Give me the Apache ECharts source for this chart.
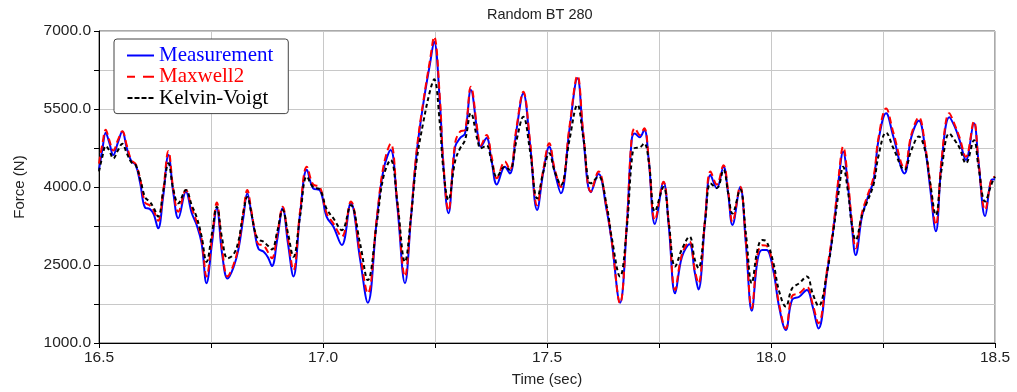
<!DOCTYPE html>
<html>
<head>
<meta charset="utf-8">
<script src="https://cdn.jsdelivr.net/npm/echarts@6/dist/echarts.min.js"></script>
<style>html,body{margin:0;padding:0;background:#fff;}#c{width:1017px;height:392px;}</style>
</head>
<body>
<div id="c"></div>
<script>
const times = [
16.500,16.508,16.515,16.523,16.532,16.542,16.552,16.562,16.572,16.582,
16.592,16.603,16.613,16.622,16.632,16.643,16.655,16.666,16.677,16.694,
16.707,16.718,16.729,16.740,16.752,16.763,16.775,16.787,16.800,16.811,
16.822,16.831,16.840,16.848,16.856,16.867,16.877,16.886,16.898,16.910,
16.922,16.934,16.949,16.964,16.978,16.993,17.008,17.023,17.042,17.062,
17.083,17.100,17.120,17.135,17.151,17.166,17.183,17.196,17.209,17.224,
17.239,17.248,17.261,17.268,17.280,17.295,17.306,17.317,17.330,17.345,
17.352,17.365,17.376,17.388,17.406,17.417,17.432,17.447,17.462,17.478,
17.492,17.505,17.517,17.531,17.550,17.568,17.581,17.598,17.615,17.633,
17.644,17.663,17.678,17.689,17.696,17.707,17.717,17.727,17.741,17.760,
17.772,17.786,17.801,17.818,17.830,17.838,17.853,17.865,17.879,17.894,
17.904,17.914,17.931,17.944,17.957,17.970,17.980,17.990,18.005,18.018,
18.033,18.047,18.063,18.080,18.093,18.106,18.125,18.140,18.151,18.161,
18.172,18.180,18.189,18.203,18.214,18.229,18.240,18.257,18.273,18.298,
18.313,18.330,18.344,18.355,18.368,18.381,18.398,18.410,18.421,18.435,
18.453,18.463,18.478,18.492,18.500];

const measurement = [
4330,4750,5045,4850,4615,4850,5065,4750,4500,4420,
4070,3600,3580,3480,3205,3800,4615,3880,3400,3910,
3500,3270,2920,2150,2900,3590,2700,2240,2450,2790,
3400,3880,3500,3110,2810,2760,2650,2480,3000,3590,
2900,2280,3500,4330,3975,3940,3430,3240,2885,3690,
2600,1775,3365,4330,4710,3620,2150,3365,4650,5610,
6380,6795,5610,4500,3495,4775,4940,5030,5865,5030,
4775,4940,4520,4050,4390,4260,5100,5800,4840,3560,
4300,4775,4300,3880,5100,6090,4970,3900,4250,3560,
2980,1775,3240,4900,5030,4955,5100,4520,3290,4090,
3230,1955,2650,2900,2350,2030,3365,4230,3975,4390,
3900,3270,4000,2900,1620,2600,2790,2790,2400,1700,
1250,1830,1890,2020,1700,1280,2340,3240,4135,4680,
4000,3300,2690,3430,3750,4135,4900,5420,4970,4260,
4950,5275,4750,4000,3150,4500,5340,5160,4900,4520,
5225,4500,3440,4135,4150];

const maxwell2 = [
4450,4850,5100,4900,4700,4900,5070,4800,4520,4440,
4150,3700,3650,3550,3350,3900,4690,3950,3525,3940,
3600,3330,3000,2280,3000,3700,2800,2280,2500,2850,
3500,3940,3550,3150,2900,2880,2750,2630,3100,3620,
3000,2400,3550,4390,4050,4000,3500,3300,3045,3720,
2700,1955,3400,4400,4830,3700,2280,3400,4700,5650,
6450,6890,5700,4550,3545,4850,5064,5100,5930,5080,
4800,5000,4600,4170,4490,4330,5150,5830,4900,3650,
4350,4840,4350,4000,5150,6140,5050,3910,4300,3600,
3000,1765,3300,4950,5130,5000,5130,4550,3365,4100,
3300,2020,2700,2950,2400,2150,3400,4300,4050,4420,
3950,3330,4010,2950,1670,2700,2880,2870,2450,1750,
1280,1900,1955,2080,1750,1380,2400,3300,4200,4775,
4100,3400,2820,3500,3800,4200,4950,5510,5050,4360,
5000,5340,4800,4100,3270,4550,5420,5200,4950,4580,
5260,4500,3560,4150,4200];

const kelvinVoigt = [
4300,4600,4790,4700,4550,4700,4830,4650,4480,4420,
4150,3800,3720,3600,3430,3900,4455,3950,3686,3942,
3650,3420,3050,2560,3100,3620,3000,2630,2700,2950,
3500,3810,3500,3150,2990,2950,2870,2800,3150,3560,
3100,2660,3450,4200,4000,3950,3580,3400,3170,3650,
2900,2210,3300,4200,4520,3700,2560,3400,4500,5250,
5850,6070,5200,4400,3750,4500,4744,4900,5420,4900,
4744,4800,4500,4200,4390,4330,4900,5350,4700,3780,
4300,4650,4300,4040,4900,5580,4950,4070,4200,3650,
3050,2280,3200,4500,4750,4760,4840,4500,3530,4000,
3300,2470,2800,3045,2600,2440,3350,4070,3980,4330,
3900,3490,3950,3100,2150,2800,2980,2950,2550,2000,
1700,2050,2150,2280,1950,1710,2350,3200,3900,4390,
3900,3300,2980,3450,3700,4050,4600,5045,4750,4330,
4700,4970,4700,4100,3460,4350,5030,4900,4750,4455,
4900,4400,3720,4050,4200];

const seriesNames = ['Measurement', 'Maxwell2', 'Kelvin-Voigt'];
const seriesColors = ['#0000ff', '#ff0000', '#000000'];
const yLabelValues = [1000, 2500, 4000, 5500, 7000];
const xLabelValues = [16.5, 17.0, 17.5, 18.0, 18.5];

// legend line-sample icons (solid, long dash, short dash)
const legendIcons = [
  'path://M0,0H27V2H0Z',
  'path://M0,0H8V2H0Z M16,0H27V2H16Z',
  'path://M0,0H5V2H0Z M7,0H12V2H7Z M14,0H19V2H14Z M21,0H26V2H21Z'
];

function pairs(vals) { return times.map((t, i) => [t, vals[i]]); }

const chart = echarts.init(document.getElementById('c'), null, {renderer: 'canvas'});
chart.setOption({
  animation: false,
  backgroundColor: '#ffffff',
  title: {
    text: 'Random BT 280',
    left: 487, top: 7, padding: 0,
    textStyle: {fontFamily: 'Liberation Sans', fontSize: 14.5, fontWeight: 'normal', color: '#222'}
  },
  legend: {
    left: 114, top: 39,
    orient: 'vertical',
    padding: [6, 15, 5, 13],
    itemGap: 0.3,
    itemWidth: 27, itemHeight: 2,
    backgroundColor: '#ffffff',
    borderColor: '#444', borderWidth: 1, borderRadius: 3,
    textStyle: {fontFamily: 'Liberation Serif', fontSize: 21, lineHeight: 17},
    data: seriesNames.map((n, i) => ({
      name: n, icon: legendIcons[i],
      itemStyle: {color: seriesColors[i]},
      textStyle: {color: seriesColors[i]}
    }))
  },
  grid: {
    left: 99, right: 22, top: 31, bottom: 49,
    show: true, borderColor: '#555', borderWidth: 1
  },
  xAxis: {
    type: 'value', min: 16.5, max: 18.5, interval: 0.25,
    name: 'Time (sec)', nameLocation: 'middle', nameGap: 29,
    nameTextStyle: {fontFamily: 'Liberation Sans', fontSize: 15, color: '#222'},
    axisLine: {show: true, lineStyle: {color: '#000', width: 1}},
    axisTick: {show: true, length: 5, inside: false, lineStyle: {color: '#000'}},
    axisLabel: {
      margin: 7, fontFamily: 'Liberation Sans', fontSize: 15.5, color: '#222',
      formatter: v => xLabelValues.some(x => Math.abs(x - v) < 1e-6) ? v.toFixed(1) : ''
    },
    splitLine: {show: true, lineStyle: {color: '#c8c8c8', width: 1}}
  },
  yAxis: {
    type: 'value', min: 1000, max: 7000, interval: 750,
    name: 'Force (N)', nameLocation: 'middle', nameGap: 72, nameRotate: 90,
    nameTextStyle: {fontFamily: 'Liberation Sans', fontSize: 15, color: '#222'},
    axisLine: {show: true, lineStyle: {color: '#000', width: 1}},
    axisTick: {show: true, length: 5, inside: false, lineStyle: {color: '#000'}},
    axisLabel: {
      margin: 8, fontFamily: 'Liberation Sans', fontSize: 15.5, color: '#222',
      formatter: v => yLabelValues.indexOf(v) >= 0 ? v.toFixed(1) : ''
    },
    splitLine: {show: true, lineStyle: {color: '#c8c8c8', width: 1}}
  },
  series: [
    {name: seriesNames[0], type: 'line', data: pairs(measurement), symbol: 'none', smooth: 0.4,
     color: seriesColors[0], lineStyle: {color: seriesColors[0], width: 2, type: 'solid'}},
    {name: seriesNames[1], type: 'line', data: pairs(maxwell2), symbol: 'none', smooth: 0.4,
     color: seriesColors[1], lineStyle: {color: seriesColors[1], width: 2, type: [7, 4]}},
    {name: seriesNames[2], type: 'line', data: pairs(kelvinVoigt), symbol: 'none', smooth: 0.4,
     color: seriesColors[2], lineStyle: {color: seriesColors[2], width: 2, type: [4, 3]}}
  ]
});
</script>
</body>
</html>
